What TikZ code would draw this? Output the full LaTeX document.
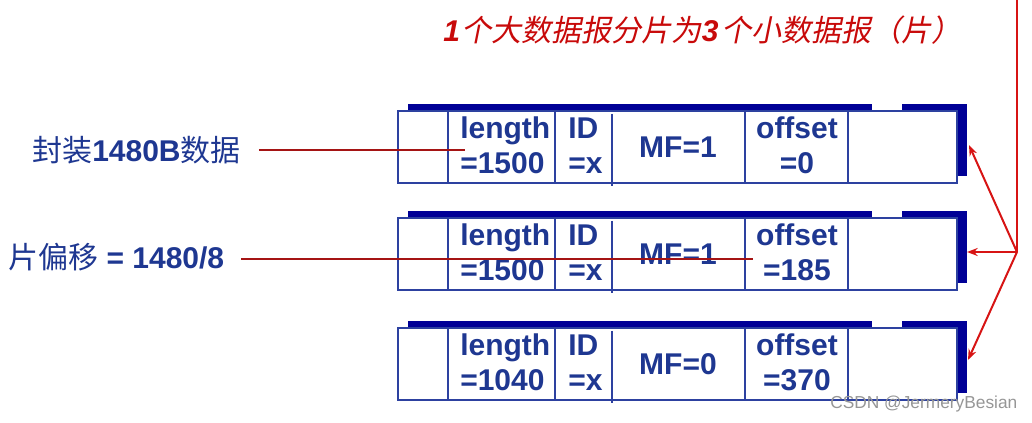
\documentclass[tikz,border=0pt]{standalone}
\usepackage{fontspec}
\setmainfont{Liberation Sans}
\newfontfamily\cjk{Noto Sans CJK SC}
\newfontfamily\cjkit[FakeSlant=0.2]{Noto Sans CJK SC}
\usetikzlibrary{arrows.meta,calc}
\definecolor{boxblue}{RGB}{45,65,160}
\definecolor{navyshadow}{RGB}{0,0,150}
\definecolor{txtblue}{RGB}{30,55,145}
\definecolor{darkred}{RGB}{165,20,20}
\definecolor{arrred}{RGB}{215,20,20}
\definecolor{titlered}{RGB}{200,10,10}
\definecolor{wmgray}{RGB}{150,150,150}
\tikzset{
  boxline/.style={draw=boxblue, line width=1.5pt},
  cell/.style={inner sep=0pt, text=txtblue, font=\bfseries\fontsize{22.5}{27}\selectfont},
  lab/.style={inner sep=0pt, text=txtblue, font=\fontsize{22.5}{26}\selectfont},
  conn/.style={draw=darkred, line width=1.5pt},
  arr/.style={draw=arrred, line width=1.5pt},
}
\begin{document}
\begin{tikzpicture}[x=0.75pt,y=-0.75pt]
\useasboundingbox (0,0) rectangle (1032,423);
% title
\node[inner sep=0pt, anchor=base west, text=titlered] (title) at (443,42)
  {\fontsize{22.5}{27}\selectfont\bfseries\itshape 1\kern1.5pt\cjkit\mdseries\upshape 个大数据报分片为\rmfamily\bfseries\itshape 3\kern2pt\cjkit\mdseries\upshape 个小数据报（片）};
% boxes
\foreach \i/\T/\len/\mf/\off in {1/111/1500/1/0, 2/218/1500/1/185, 3/328/1040/0/370}{
  \fill[navyshadow] (408,\T-7) rectangle (967,\T+65);
  \draw[boxline, fill=white] (398,\T) rectangle (957,\T+72);
  \fill[white] (872,\T-8) rectangle (902,\T-0.8);
  \draw[boxline] (448,\T) -- (448,\T+72);
  \draw[boxline] (555,\T) -- (555,\T+72);
  \draw[boxline] (612,\T+3) -- (612,\T+75);
  \draw[boxline] (745,\T) -- (745,\T+72);
  \draw[boxline] (848,\T) -- (848,\T+72);
  \node[cell, anchor=base west] (len\i) at (460,\T+28) {length};
  \node[cell, anchor=base west] (lenv\i) at (460,\T+63) {=\len};
  \node[cell, anchor=base west] (id\i) at (568,\T+28) {ID};
  \node[cell, anchor=base west] (idv\i) at (568,\T+63) {=x};
  \node[cell, anchor=base] (mf\i) at (678,\T+47) {MF=\mf};
  \node[cell, anchor=base] (off\i) at (797,\T+28) {offset};
  \node[cell, anchor=base] (offv\i) at (797,\T+63) {=\off};
}
% left labels
\node[lab, anchor=base west] (lab1) at (32,162) {\cjk 封装\rmfamily\bfseries 1480B\cjk\mdseries 数据};
\node[lab, anchor=base west] (lab2) at (8,269) {\cjk 片偏移\rmfamily\bfseries{} = 1480/8};
\coordinate (e1) at (465,150);
\coordinate (e2) at (753,259);
\draw[conn] ($(lab1.east |- e1)+(18,0)$) -- (e1);
\draw[conn] ($(lab2.east |- e2)+(17,0)$) -- (e2);
% red arrows
\coordinate (v0) at (1017,0);
\coordinate (v1) at (1017,252);
\coordinate (a1) at (969,145);
\coordinate (a2) at (967,252);
\coordinate (a3) at (968,360);
\draw[arr] (v0) -- (v1);
\draw[arr, -{Stealth[length=8pt,width=6pt]}] (v1) -- (a1);
\draw[arr, -{Stealth[length=8pt,width=6pt]}] (v1) -- (a2);
\draw[arr, -{Stealth[length=8pt,width=6pt]}] (v1) -- (a3);
% watermark
\node[inner sep=0pt, anchor=base west, text=wmgray, font=\fontsize{13}{15}\selectfont] (wm) at (830,409) {CSDN @JermeryBesian};
\end{tikzpicture}
\end{document}
